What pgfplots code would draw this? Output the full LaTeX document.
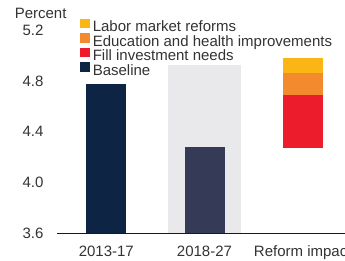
\documentclass[border=0pt]{standalone}
\usepackage{pgfplots}
\pgfplotsset{compat=1.18}
\usepackage{fontspec}
\setmainfont{Liberation Sans}
\definecolor{navyA}{HTML}{0D2445}
\definecolor{navyB}{HTML}{353B56}
\definecolor{bggray}{HTML}{E9E9EB}
\definecolor{cred}{HTML}{EC1C2D}
\definecolor{corange}{HTML}{F48A2E}
\definecolor{cyellow}{HTML}{FBB515}
\definecolor{txt}{HTML}{333333}
\begin{document}
\begin{tikzpicture}[font=\fontsize{15}{18}\selectfont, text=txt]
\pgfplotsset{common/.style={
  scale only axis, width=294.6pt, height=203pt,
  xmin=-0.5, xmax=2.5, ymin=3.6, ymax=5.2,
}}
\begin{axis}[common, name=main,
  ybar,
  axis x line=bottom, axis y line=left,
  y axis line style={draw=none},
  x axis line style={-, black!90, line width=0.8pt},
  major tick length=0pt,
  xtick={0,1,2}, xticklabels={2013-17,2018-27,Reform impact},
  xticklabel style={inner sep=0pt, anchor=base, yshift=-23pt},
  ytick={3.6,4.0,4.4,4.8,5.2}, yticklabels={3.6,4.0,4.4,4.8,5.2},
  yticklabel style={inner sep=0pt, anchor=east, xshift=-13.5pt},
  legend style={draw=none, fill=none, at={(0.078,1.059)}, anchor=north west,
    inner sep=0pt, row sep=-1.6pt, column sep=3.5pt,
    nodes={inner sep=0pt, text height=11pt, text depth=3pt, anchor=west}},
  legend cell align=left,
  legend image code/.code={\fill[#1] (0pt,0.5pt) rectangle (8.5pt,9pt);},
]
\addlegendimage{cyellow}
\addlegendentry{Labor market reforms}
\addlegendimage{corange}
\addlegendentry{Education and health improvements}
\addlegendimage{cred}
\addlegendentry{Fill investment needs}
\addlegendimage{navyA}
\addlegendentry{Baseline}
\addplot[fill=bggray, draw=none, bar width=73pt, bar shift=0pt, forget plot] coordinates {(1,4.93)};
\addplot[fill=navyA, draw=none, bar width=40pt, bar shift=0pt, forget plot] coordinates {(0,4.78)};
\addplot[fill=navyB, draw=none, bar width=40pt, bar shift=0pt, forget plot] coordinates {(1,4.28)};
\end{axis}
\begin{axis}[common, hide axis, ybar stacked, bar width=40pt]
\addplot[draw=none, fill=none] coordinates {(2,4.27)};
\addplot[draw=none, fill=cred] coordinates {(2,0.42)};
\addplot[draw=none, fill=corange] coordinates {(2,0.17)};
\addplot[draw=none, fill=cyellow] coordinates {(2,0.12)};
\end{axis}
\node[anchor=base east, inner sep=0pt] at ([xshift=9.5pt, yshift=11.7pt]main.north west) {Percent};
\pgfresetboundingbox
\path[use as bounding box] (-57.2pt,-26.7pt) rectangle (287.8pt,233.3pt);
\end{tikzpicture}
\end{document}
